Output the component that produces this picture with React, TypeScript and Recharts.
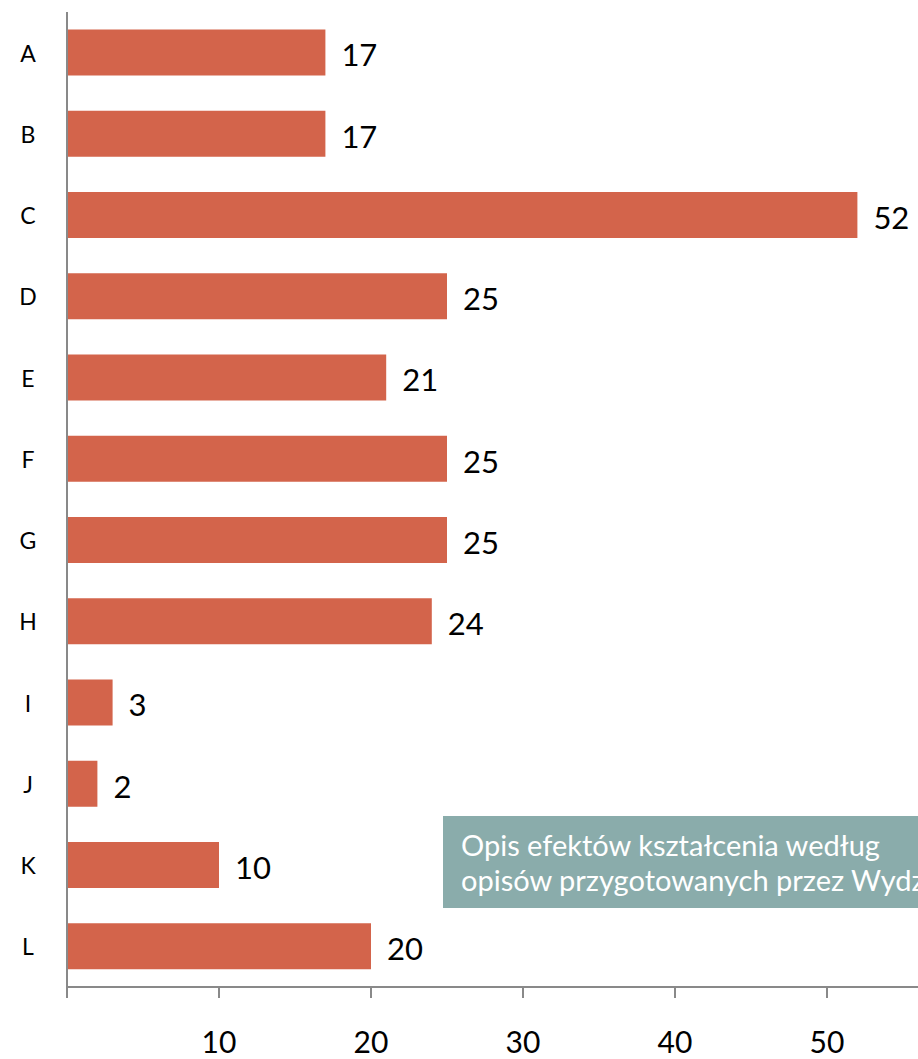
import React from "react";
import { BarChart, Bar, XAxis, YAxis, LabelList } from "recharts";

const categories = ["A", "B", "C", "D", "E", "F", "G", "H", "I", "J", "K", "L"];
const values = [17, 17, 52, 25, 21, 25, 25, 24, 3, 2, 10, 20];
const xTicks = [0, 10, 20, 30, 40, 50, 60];
const boxLines = [
  "Opis efektów kształcenia według",
  "opisów przygotowanych przez Wydział",
];

const data = categories.map((name, i) => ({ name, value: values[i] }));

const FONT = "Lato, 'Open Sans', sans-serif";
const AXIS = "#898989";
const BAR = "#D3644B";

const CategoryTick = ({ x, y, payload }: any) => (
  <text
    x={x - 31}
    y={y}
    textAnchor="middle"
    dominantBaseline="central"
    fontSize={23}
    fontFamily={FONT}
    fill="#000"
  >
    {payload.value}
  </text>
);

export default function App() {
  return (
    <div
      style={{
        position: "absolute",
        left: 0,
        top: 0,
        width: 918,
        height: 1059,
        overflow: "hidden",
        background: "#fff",
      }}
    >
      <BarChart
        layout="vertical"
        width={1000}
        height={1059}
        data={data}
        margin={{ top: 12, right: 21, bottom: 0, left: 0 }}
        barCategoryGap="21.5%"
      >
        <XAxis
          type="number"
          domain={[0, 60]}
          ticks={xTicks}
          interval={0}
          height={72}
          stroke={AXIS}
          strokeWidth={2}
          tickSize={11}
          tickMargin={34}
          tick={{ fontSize: 30, fill: "#000", fontFamily: FONT }}
          tickFormatter={(v: number) => (v === 0 ? "" : String(v))}
        />
        <YAxis
          type="category"
          dataKey="name"
          width={67}
          stroke={AXIS}
          strokeWidth={2}
          tickLine={false}
          tick={<CategoryTick />}
        />
        <Bar dataKey="value" fill={BAR} isAnimationActive={false}>
          <LabelList
            dataKey="value"
            position="right"
            offset={16}
            dy={3}
            fill="#000"
            fontSize={31}
            fontFamily={FONT}
          />
        </Bar>
      </BarChart>
      <div
        style={{
          position: "absolute",
          left: 443,
          top: 816,
          width: 600,
          height: 92,
          background: "#8AACAB",
          color: "#fff",
          fontFamily: FONT,
          fontSize: 29,
          lineHeight: "35px",
          padding: "11px 18px",
          boxSizing: "border-box",
          whiteSpace: "nowrap",
        }}
      >
        {boxLines.map((line) => (
          <div key={line}>{line}</div>
        ))}
      </div>
    </div>
  );
}
